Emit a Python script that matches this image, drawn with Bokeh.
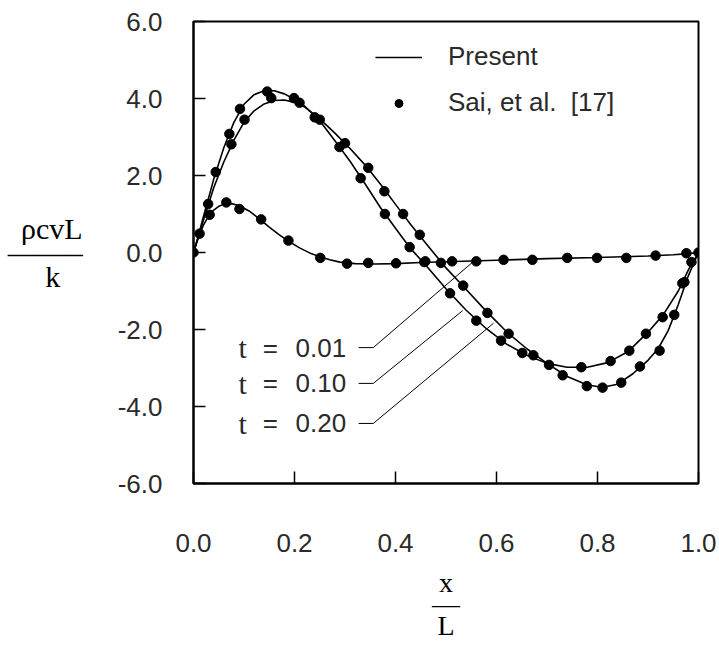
from bokeh.plotting import figure
from bokeh.models import (Range1d, FixedTicker, Label, Legend, LegendItem)
from bokeh.embed import file_html
from bokeh.resources import INLINE

# ---------------- data ----------------
x_ticks = [0.0, 0.2, 0.4, 0.6, 0.8, 1.0]
x_tick_labels = ["0.0", "0.2", "0.4", "0.6", "0.8", "1.0"]
y_ticks = [-6, -4, -2, 0, 2, 4, 6]
y_tick_labels = ["-6.0", "-4.0", "-2.0", "0.0", "2.0", "4.0", "6.0"]

# Present (lines)
present_x_001 = [0.0, 0.01, 0.02, 0.03, 0.04, 0.05, 0.06, 0.075, 0.09, 0.11, 0.13, 0.15, 0.17, 0.19,
                 0.21, 0.23, 0.25, 0.27, 0.29, 0.32, 0.36, 0.40, 0.45, 0.50, 0.55, 0.60, 0.70, 0.80,
                 0.90, 0.95, 0.98, 1.0]
present_v_001 = [0.0, 0.40, 0.72, 0.95, 1.10, 1.20, 1.25, 1.27, 1.22, 1.08, 0.88, 0.66, 0.46, 0.28,
                 0.12, -0.01, -0.11, -0.19, -0.25, -0.29, -0.30, -0.29, -0.26, -0.24, -0.22, -0.20,
                 -0.16, -0.13, -0.09, -0.06, -0.03, 0.0]

present_x_010 = [0.0, 0.01, 0.02, 0.04, 0.06, 0.08, 0.10, 0.12, 0.14, 0.16, 0.18, 0.20, 0.22, 0.25,
                 0.28, 0.31, 0.34, 0.37, 0.40, 0.43, 0.46, 0.50, 0.54, 0.58, 0.62, 0.66, 0.70, 0.74,
                 0.78, 0.82, 0.86, 0.90, 0.93, 0.96, 0.98, 1.0]
present_v_010 = [0.0, 0.45, 0.95, 1.90, 2.72, 3.38, 3.85, 4.10, 4.20, 4.20, 4.12, 3.98, 3.80, 3.42,
                 2.90, 2.37, 1.78, 1.17, 0.63, 0.10, -0.33, -0.94, -1.50, -1.98, -2.38, -2.67,
                 -2.88, -2.98, -2.98, -2.86, -2.58, -2.07, -1.62, -1.00, -0.45, 0.0]

present_x_020 = [0.0, 0.01, 0.02, 0.04, 0.06, 0.08, 0.10, 0.12, 0.14, 0.16, 0.18, 0.20, 0.22, 0.25,
                 0.28, 0.31, 0.34, 0.37, 0.40, 0.43, 0.46, 0.50, 0.54, 0.58, 0.62, 0.66, 0.70, 0.74,
                 0.78, 0.81, 0.84, 0.87, 0.90, 0.92, 0.94, 0.96, 0.98, 1.0]
present_v_020 = [0.0, 0.42, 0.85, 1.68, 2.35, 2.92, 3.38, 3.68, 3.86, 3.95, 3.96, 3.90, 3.78, 3.47,
                 3.10, 2.70, 2.27, 1.78, 1.25, 0.73, 0.24, -0.40, -0.96, -1.53, -2.06, -2.50,
                 -2.88, -3.22, -3.44, -3.50, -3.42, -3.15, -2.80, -2.50, -2.03, -1.35, -0.60, 0.0]

# Sai, et al. [17] (points)
sai_x_001 = [0.0, 0.032, 0.065, 0.091, 0.134, 0.188, 0.251, 0.304, 0.346, 0.401, 0.457, 0.512,
             0.560, 0.614, 0.671, 0.740, 0.799, 0.857, 0.915, 0.976, 1.0]
sai_v_001 = [0.0, 0.98, 1.30, 1.13, 0.86, 0.31, -0.14, -0.29, -0.27, -0.28, -0.25, -0.23,
             -0.23, -0.19, -0.19, -0.14, -0.14, -0.14, -0.08, -0.02, 0.0]

sai_x_010 = [0.012, 0.044, 0.071, 0.092, 0.146, 0.199, 0.240, 0.289, 0.331, 0.379, 0.428, 0.459,
             0.508, 0.560, 0.609, 0.651, 0.704, 0.768, 0.826, 0.863, 0.896, 0.929, 0.968, 0.986]
sai_v_010 = [0.49, 2.09, 3.08, 3.73, 4.18, 4.01, 3.51, 2.74, 1.93, 1.00, 0.14, -0.23,
             -1.06, -1.77, -2.29, -2.61, -2.92, -2.98, -2.82, -2.55, -2.11, -1.68, -0.80, -0.25]

sai_x_020 = [0.029, 0.075, 0.101, 0.154, 0.210, 0.250, 0.300, 0.346, 0.378, 0.415, 0.448, 0.490,
             0.534, 0.582, 0.624, 0.673, 0.731, 0.779, 0.810, 0.847, 0.884, 0.923, 0.952, 0.972]
sai_v_020 = [1.26, 2.81, 3.45, 4.01, 3.89, 3.45, 2.84, 2.20, 1.59, 1.00, 0.46, -0.27,
             -0.86, -1.57, -2.11, -2.67, -3.19, -3.47, -3.51, -3.38, -2.96, -2.55, -1.62, -0.77]

time_labels = ["0.01", "0.10", "0.20"]

# ---------------- figure ----------------
SANS = "Liberation Sans"
SERIF = "Liberation Serif"
TXT = "#2a2a2a"
NB = "\u00a0"

p = figure(width=719, height=646, x_range=Range1d(0, 1), y_range=Range1d(-6, 6),
           output_backend="svg", toolbar_location=None,
           min_border_left=193, min_border_right=21, min_border_top=21, min_border_bottom=163)
p.xgrid.visible = False
p.ygrid.visible = False
p.background_fill_color = "white"
p.border_fill_color = "white"
p.outline_line_color = "black"
p.outline_line_width = 2
p.outline_line_alpha = 1

p.xaxis.ticker = FixedTicker(ticks=x_ticks)
p.xaxis.major_label_overrides = dict(zip(x_ticks, x_tick_labels))
p.yaxis.ticker = FixedTicker(ticks=y_ticks)
p.yaxis.major_label_overrides = dict(zip(y_ticks, y_tick_labels))
for ax in (p.xaxis, p.yaxis):
    ax.axis_line_width = 2
    ax.axis_line_color = "black"
    ax.major_tick_in = 12
    ax.major_tick_out = 0
    ax.major_tick_line_width = 1.5
    ax.minor_tick_line_color = None
    ax.major_label_text_font = SANS
    ax.major_label_text_font_size = "26px"
    ax.major_label_text_color = TXT
    ax.axis_label_text_font = SERIF
    ax.axis_label_text_font_style = "normal"
    ax.axis_label_text_color = "black"
    ax.axis_label_text_line_height = 0.72
    ax.axis_label_text_align = "center"
p.xaxis.axis_label_text_font_size = "28px"
p.yaxis.axis_label_text_font_size = "30px"
p.xaxis.axis_label_text_line_height = 0.7
p.xaxis.major_label_standoff = 50
p.yaxis.major_label_standoff = 31

# fractions as multi-line axis titles
p.xaxis.axis_label = "x\n\u2014\nL"
p.yaxis.axis_label = "\u03c1cvL\n\u2014\u2014\u2013\nk" + NB * 3
p.yaxis.axis_label_orientation = "horizontal"
p.xaxis.axis_label_standoff = 12
p.yaxis.axis_label_standoff = 32

LW = 1.6
l1 = p.line(present_x_001, present_v_001, line_color="black", line_width=LW)
l2 = p.line(present_x_010, present_v_010, line_color="black", line_width=LW)
l3 = p.line(present_x_020, present_v_020, line_color="black", line_width=LW)

DS = 9.5
s1 = p.scatter(sai_x_001, sai_v_001, size=DS, color="black")
s2 = p.scatter(sai_x_010, sai_v_010, size=DS, color="black")
s3 = p.scatter(sai_x_020, sai_v_020, size=DS, color="black")

legend = Legend(items=[LegendItem(label="Present", renderers=[l2]),
                       LegendItem(label="Sai, et al.\u00a0 [17]", renderers=[s2])],
                location=(182, 365), padding=0, margin=0, spacing=15,
                glyph_width=47, glyph_height=20, label_height=20, label_standoff=26,
                label_text_font=SANS, label_text_font_size="26px", label_text_color=TXT,
                border_line_color=None, background_fill_alpha=0)
p.add_layout(legend)

# leader lines for time annotations
row_y = [-2.47, -3.40, -4.44]
end_x = [0.552, 0.533, 0.594]
end_y = [-0.26, -1.51, -1.84]
p.segment(x0=[0.327] * 3, y0=row_y, x1=[0.356] * 3, y1=row_y, line_color="black", line_width=1)
p.segment(x0=[0.356] * 3, y0=row_y, x1=end_x, y1=end_y, line_color="black", line_width=1)

for yy, lab in zip(row_y, time_labels):
    p.add_layout(Label(x=0.089, y=yy, text="t", text_font=SERIF, text_font_size="30px",
                       text_baseline="middle", text_align="left", text_color=TXT))
    p.add_layout(Label(x=0.137, y=yy, text="=", text_font=SANS, text_font_size="26px",
                       text_baseline="middle", text_align="left", text_color=TXT))
    p.add_layout(Label(x=0.202, y=yy, text=lab, text_font=SANS, text_font_size="26px",
                       text_baseline="middle", text_align="left", text_color=TXT))

open("out.html", "w").write(file_html(p, INLINE))
